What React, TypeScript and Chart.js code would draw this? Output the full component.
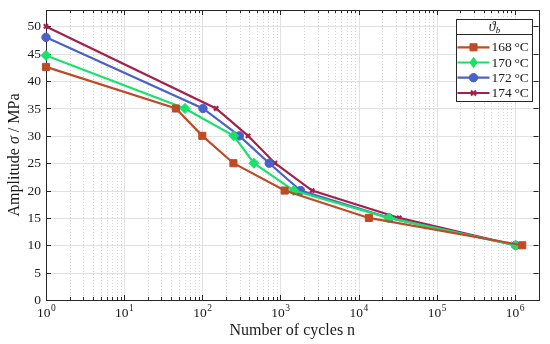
import { useEffect, useRef } from "react";
import { Chart, registerables } from "chart.js";

Chart.register(...registerables);

// ---------- data ----------
const seriesLabels = ["168\u2009°C", "170\u2009°C", "172\u2009°C", "174\u2009°C"];
const cycles168 = [1, 46, 100, 250, 1130, 13500, 1240000];
const ampl168 = [42.6, 35, 30, 25, 20, 15, 10];
const cycles170 = [1, 60, 252, 457, 1480, 24300, 1020000];
const ampl170 = [44.7, 35, 30, 25, 20, 15, 10];
const cycles172 = [1, 102, 298, 718, 1800, 24500, 1020000];
const ampl172 = [48, 35, 30, 25, 20, 15, 10];
const cycles174 = [1, 150, 385, 850, 2540, 33000, 1020000];
const ampl174 = [50, 35, 30, 25, 20, 15, 10];

const xTickValues = [1, 10, 100, 1000, 10000, 100000, 1000000];
const xTickExponents = ["0", "1", "2", "3", "4", "5", "6"];
const yTickValues = [0, 5, 10, 15, 20, 25, 30, 35, 40, 45, 50];
const xTitle = "Number of cycles n";
const yTitleParts = ["Amplitude ", "σ", " / MPa"];
const legendTitle = ["ϑ", "b"];

const colors = ["#BF4A26", "#17E26C", "#4A62C8", "#A51F4B"];
const pointStyles = ["rect", "rectRot", "circle", "crossRot"];
const pointRadii = [5, 5, 4.2, 3];

const FONT = "'Liberation Serif', 'Times New Roman', serif";
const AXIS = "#262626";

function line(ctx: CanvasRenderingContext2D, x1: number, y1: number, x2: number, y2: number) {
  ctx.beginPath();
  ctx.moveTo(x1, y1);
  ctx.lineTo(x2, y2);
  ctx.stroke();
}

function drawMarker(ctx: CanvasRenderingContext2D, style: string, x: number, y: number, r: number) {
  ctx.beginPath();
  if (style === "rect") {
    const s = Math.SQRT1_2 * r;
    ctx.rect(x - s, y - s, 2 * s, 2 * s);
    ctx.fill();
    ctx.stroke();
  } else if (style === "rectRot") {
    ctx.moveTo(x, y - r);
    ctx.lineTo(x + r * 0.75, y);
    ctx.lineTo(x, y + r);
    ctx.lineTo(x - r * 0.75, y);
    ctx.closePath();
    ctx.fill();
    ctx.stroke();
  } else if (style === "circle") {
    ctx.arc(x, y, r, 0, Math.PI * 2);
    ctx.fill();
    ctx.stroke();
  } else {
    ctx.lineWidth = 2;
    const d = r * Math.SQRT1_2 * 1.2;
    ctx.moveTo(x - d, y - d);
    ctx.lineTo(x + d, y + d);
    ctx.moveTo(x - d, y + d);
    ctx.lineTo(x + d, y - d);
    ctx.stroke();
  }
}

const decor = {
  id: "decor",
  beforeDatasetsDraw(chart: any) {
    const { ctx, chartArea: a, scales } = chart;
    const x = scales.x, y = scales.y;
    ctx.save();
    ctx.lineWidth = 1;
    // minor x grid (dotted)
    ctx.strokeStyle = "#d4d4d4";
    ctx.setLineDash([1, 2]);
    const minors: number[] = [];
    for (let d = 0; d <= 6; d++) {
      for (let m = 2; m <= 9; m++) {
        const v = m * Math.pow(10, d);
        if (v < x.max) minors.push(v);
      }
    }
    minors.forEach((v) => {
      const px = Math.round(x.getPixelForValue(v)) + 0.5;
      line(ctx, px, a.top, px, a.bottom);
    });
    // major grid
    ctx.setLineDash([]);
    ctx.strokeStyle = "#e2e2e2";
    xTickValues.forEach((v) => {
      const px = Math.round(x.getPixelForValue(v)) + 0.5;
      line(ctx, px, a.top, px, a.bottom);
    });
    yTickValues.forEach((v) => {
      const py = Math.round(y.getPixelForValue(v)) + 0.5;
      line(ctx, a.left, py, a.right, py);
    });
    // tick marks
    ctx.strokeStyle = AXIS;
    minors.forEach((v) => {
      const px = Math.round(x.getPixelForValue(v)) + 0.5;
      line(ctx, px, a.bottom, px, a.bottom - 3);
      line(ctx, px, a.top, px, a.top + 3);
    });
    xTickValues.forEach((v) => {
      const px = Math.round(x.getPixelForValue(v)) + 0.5;
      line(ctx, px, a.bottom, px, a.bottom - 5);
      line(ctx, px, a.top, px, a.top + 5);
    });
    yTickValues.forEach((v) => {
      const py = Math.round(y.getPixelForValue(v)) + 0.5;
      line(ctx, a.left, py, a.left + 5, py);
      line(ctx, a.right, py, a.right - 5, py);
    });
    // box
    ctx.strokeRect(Math.round(a.left) + 0.5, Math.round(a.top) + 0.5, Math.round(a.right - a.left), Math.round(a.bottom - a.top));

    // tick labels
    ctx.fillStyle = "#1a1a1a";
    ctx.font = `13.5px ${FONT}`;
    ctx.textAlign = "right";
    ctx.textBaseline = "middle";
    yTickValues.forEach((v) => {
      ctx.fillText(String(v), a.left - 5, y.getPixelForValue(v) + 0.5);
    });
    ctx.textBaseline = "alphabetic";
    ctx.textAlign = "left";
    xTickValues.forEach((v, i) => {
      const px = x.getPixelForValue(v);
      ctx.font = `13.5px ${FONT}`;
      const wBase = ctx.measureText("10").width;
      ctx.font = `9.5px ${FONT}`;
      const wExp = ctx.measureText(xTickExponents[i]).width;
      const left = px - (wBase + wExp) / 2;
      ctx.font = `13.5px ${FONT}`;
      ctx.fillText("10", left, 316.5);
      ctx.font = `9.5px ${FONT}`;
      ctx.fillText(xTickExponents[i], left + wBase + 0.5, 311);
    });

    // x title
    ctx.font = `16px ${FONT}`;
    ctx.textAlign = "center";
    ctx.fillText(xTitle, (a.left + a.right) / 2, 335);

    // y title (rotated, sigma italic)
    ctx.save();
    ctx.translate(19, (a.top + a.bottom) / 2);
    ctx.rotate(-Math.PI / 2);
    ctx.textAlign = "left";
    const fonts = [`16px ${FONT}`, `italic 16px ${FONT}`, `16px ${FONT}`];
    let total = 0;
    const widths = yTitleParts.map((t, i) => {
      ctx.font = fonts[i];
      const w = ctx.measureText(t).width;
      total += w;
      return w;
    });
    let cx = -total / 2;
    yTitleParts.forEach((t, i) => {
      ctx.font = fonts[i];
      ctx.fillText(t, cx, 0);
      cx += widths[i];
    });
    ctx.restore();
    ctx.restore();
  },
  afterDatasetsDraw(chart: any) {
    const { ctx } = chart;
    ctx.save();
    const L = 456.5, R = 532.5, T = 19.5, SEP = 34.5, B = 101.5;
    ctx.fillStyle = "#ffffff";
    ctx.fillRect(L, T, R - L, B - T);
    ctx.strokeStyle = AXIS;
    ctx.lineWidth = 1;
    ctx.strokeRect(L, T, R - L, B - T);
    line(ctx, L, SEP, R, SEP);
    // title
    ctx.fillStyle = "#1a1a1a";
    ctx.textBaseline = "alphabetic";
    ctx.textAlign = "left";
    ctx.font = `italic 14px ${FONT}`;
    const w1 = ctx.measureText(legendTitle[0]).width;
    ctx.font = `italic 9px ${FONT}`;
    const w2 = ctx.measureText(legendTitle[1]).width;
    const tl = (L + R) / 2 - (w1 + w2) / 2;
    ctx.font = `italic 14px ${FONT}`;
    ctx.fillText(legendTitle[0], tl, 31);
    ctx.font = `italic 9px ${FONT}`;
    ctx.fillText(legendTitle[1], tl + w1, 33);
    // rows
    const rows = [47.3, 62.5, 77.7, 93];
    const ds = chart.data.datasets;
    rows.forEach((ry, i) => {
      ctx.strokeStyle = colors[i];
      ctx.lineWidth = 2.2;
      line(ctx, 457.5, ry, 489.5, ry);
      ctx.lineWidth = 1;
      ctx.fillStyle = colors[i];
      ctx.strokeStyle = colors[i];
      drawMarker(ctx, pointStyles[i], 473.5, ry, pointRadii[i]);
      ctx.fillStyle = "#1a1a1a";
      ctx.font = `13.5px ${FONT}`;
      ctx.textBaseline = "middle";
      ctx.fillText(ds[i].label, 491.5, ry + 0.5);
    });
    ctx.restore();
  },
};

export default function App() {
  const ref = useRef<HTMLCanvasElement>(null);
  useEffect(() => {
    if (!ref.current) return;
    const mk = (xs: number[], ys: number[]) => xs.map((v, i) => ({ x: v, y: ys[i] }));
    const series = [
      mk(cycles168, ampl168),
      mk(cycles170, ampl170),
      mk(cycles172, ampl172),
      mk(cycles174, ampl174),
    ];
    const chart = new Chart(ref.current, {
      type: "line",
      data: {
        datasets: series.map((d, i) => ({
          label: seriesLabels[i],
          data: d,
          borderColor: colors[i],
          backgroundColor: colors[i],
          pointBackgroundColor: colors[i],
          pointBorderColor: colors[i],
          pointStyle: pointStyles[i] as any,
          pointRadius: pointRadii[i],
          pointBorderWidth: i === 3 ? 2.2 : 1,
          borderWidth: 2.2,
          tension: 0,
          fill: false,
          clip: false as any,
        })),
      },
      options: {
        animation: false,
        responsive: true,
        maintainAspectRatio: false,
        layout: { padding: { top: 10, right: 11.5, left: 0, bottom: 0 } },
        plugins: { legend: { display: false }, tooltip: { enabled: false } },
        scales: {
          x: {
            type: "logarithmic",
            min: 1,
            max: 2000000,
            grid: { display: false },
            border: { display: false },
            ticks: { display: false },
            afterBuildTicks: (s: any) => {
              s.ticks = xTickValues.map((v) => ({ value: v }));
            },
            afterFit: (s: any) => {
              s.height = 44;
            },
          },
          y: {
            type: "linear",
            min: 0,
            max: 53,
            grid: { display: false },
            border: { display: false },
            ticks: { display: false },
            afterBuildTicks: (s: any) => {
              s.ticks = yTickValues.map((v) => ({ value: v }));
            },
            afterFit: (s: any) => {
              s.width = 46;
            },
          },
        },
      },
      plugins: [decor],
    });
    return () => chart.destroy();
  }, []);
  return (
    <div style={{ position: "fixed", left: 0, top: 0, width: 550, height: 344, background: "#fff" }}>
      <canvas ref={ref} />
    </div>
  );
}
